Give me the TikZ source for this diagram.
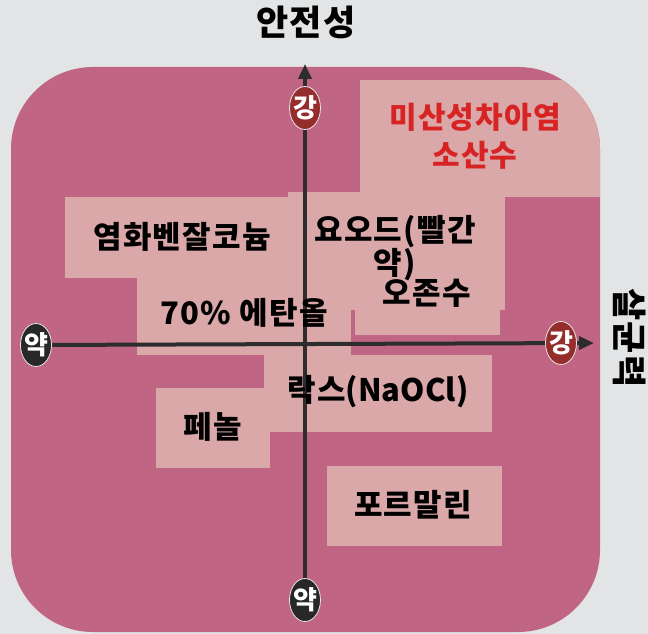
\documentclass[tikz,border=0pt]{standalone}
\usepackage{fontspec}
\setmainfont{Noto Sans CJK KR}
\usetikzlibrary{arrows.meta,shapes.geometric}
\definecolor{bgc}{RGB}{227,228,230}
\definecolor{outerc}{RGB}{192,102,132}
\definecolor{lightc}{RGB}{218,168,168}
\definecolor{strongc}{RGB}{150,45,45}
\definecolor{weakc}{RGB}{40,40,40}
\definecolor{axisc}{RGB}{45,45,45}
\definecolor{redtxt}{RGB}{215,35,35}
\newcommand{\ovtxt}[1]{\makebox[0pt]{#1}}
\tikzset{
  boxtxt/.style={font=\bfseries\fontsize{31}{33}\selectfont\addfontfeature{LetterSpace=4}, text=black, align=center, inner sep=0pt},
  redbox/.style={boxtxt, text=redtxt, font=\bfseries\fontsize{30}{38}\selectfont\addfontfeature{LetterSpace=4}},
  titletxt/.style={font=\bfseries\fontsize{35}{38}\selectfont\addfontfeature{LetterSpace=4}, text=black, inner sep=0pt},
  axisline/.style={draw=axisc, line width=4pt, -{Triangle[length=15pt,width=13pt]}},
  ovalbase/.style={ellipse, minimum width=31pt, minimum height=43pt, inner sep=0pt,
    text height=18.5pt, text depth=0pt, text=white, font=\bfseries\fontsize{26}{26}\selectfont,
    draw=white!80!gray, line width=0.8pt},
  ovalstrong/.style={ovalbase, fill=strongc},
  ovalweak/.style={ovalbase, fill=weakc},
  lightbox/.style={fill=lightc}
}
\begin{document}
\begin{tikzpicture}[x=1pt,y=-1pt]
\useasboundingbox (0,0) rectangle (648,634);
\fill[bgc] (0,0) rectangle (648,634);
\fill[outerc, rounded corners=82pt] (11,67) rectangle (600,632);
\begin{scope}
  \clip[rounded corners=82pt] (11,67) rectangle (600,632);
  \fill[lightbox] (360,80) rectangle (600,197);
  \fill[lightbox] (288,192) rectangle (505,310);
  \fill[lightbox] (65,197) rectangle (300,278);
  \fill[lightbox] (137,270) rectangle (351,355);
  \fill[lightbox] (355,250) rectangle (500,335);
  \fill[lightbox] (264,355) rectangle (492,432);
  \fill[lightbox] (156,388) rectangle (270,468);
  \fill[lightbox] (327,466) rectangle (502,546);
\end{scope}

% titles
\node[titletxt] (ttl) at (306,22) {안전성};
\node[titletxt, rotate=-90] (side) at (630,338) {살균력};

% axes
\coordinate (ytip) at (305,64);
\coordinate (xtip) at (594,343);
\coordinate (ybotc) at (305,600);
\coordinate (xlefc) at (36,345);
\coordinate (ytopc) at (305,108);
\coordinate (xrigc) at (561,343);
\draw[axisline] (ybotc) -- (ytip);
\draw[axisline] (xlefc) -- (xtip);

\node[ovalstrong] (ytop) at (ytopc) {\ovtxt{강}};
\node[ovalstrong] (xright) at (xrigc) {\ovtxt{강}};
\node[ovalweak] (ybot) at (ybotc) {\ovtxt{약}};
\node[ovalweak] (xleft) at (xlefc) {\ovtxt{약}};

% labels
\node[redbox] (msa) at (475,136) {미산성차아염\\소산수};
\node[boxtxt] (bzk) at (182,237) {염화벤잘코늄};
\node[boxtxt] (iod) at (395,248) {요오드(빨간\\약)};
\node[boxtxt] (ozo) at (427,293) {오존수};
\node[boxtxt] (eth) at (244,313) {70\% 에탄올};
\node[boxtxt] (nao) at (378,392) {락스{\addfontfeature{LetterSpace=0}(NaOCl)}};
\node[boxtxt] (phe) at (213,427) {페놀};
\node[boxtxt] (for) at (413,505) {포르말린};
\end{tikzpicture}
\end{document}
